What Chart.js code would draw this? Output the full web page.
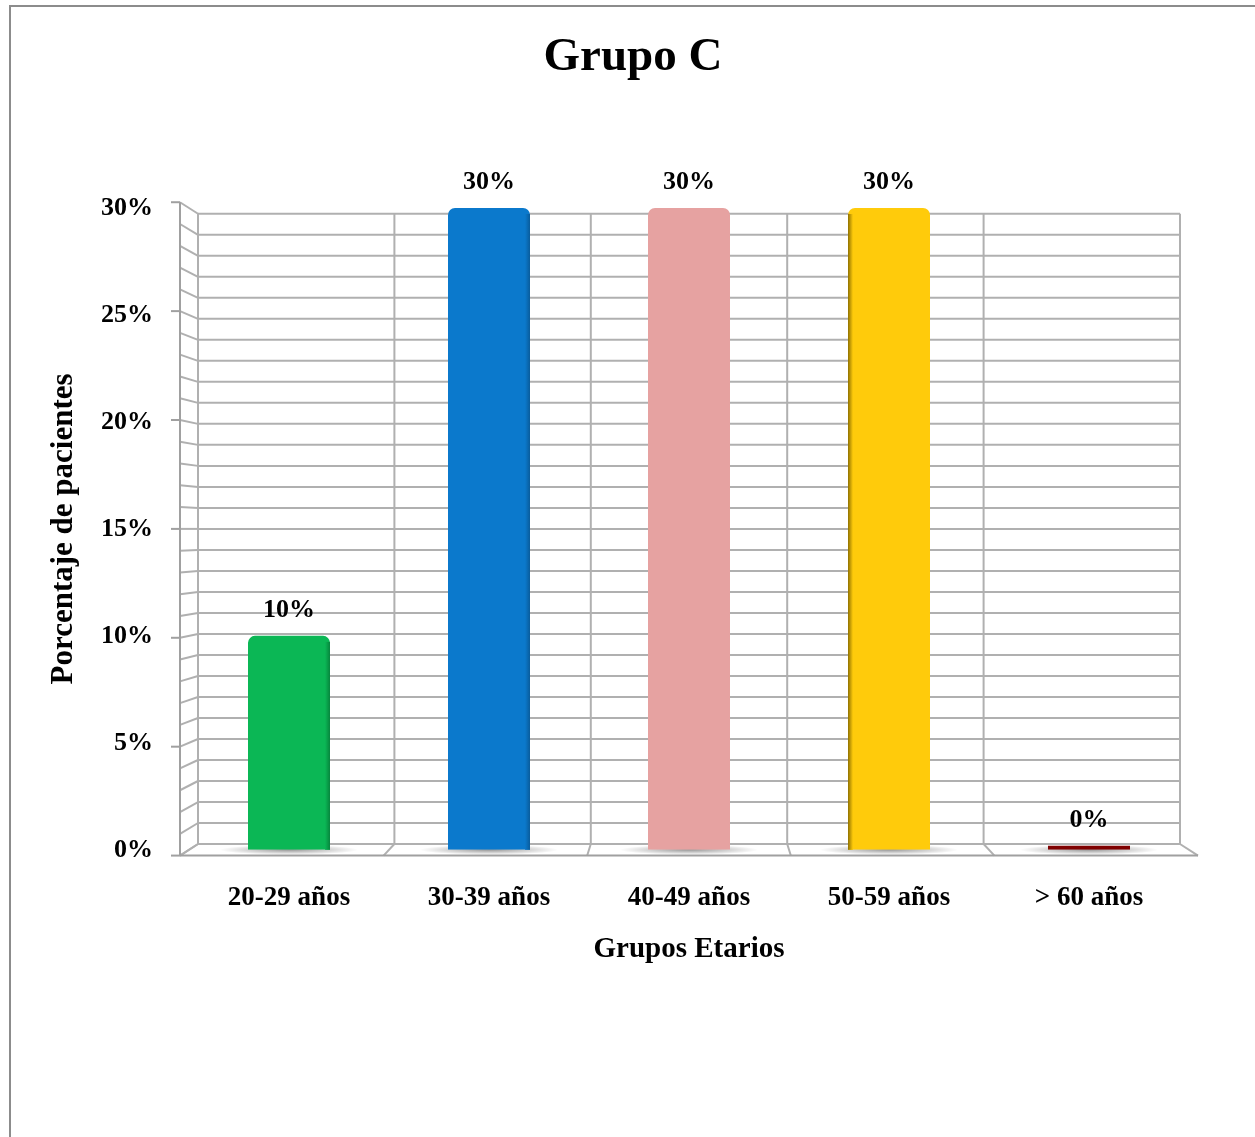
<!DOCTYPE html>
<html><head><meta charset="utf-8">
<script src="https://cdn.jsdelivr.net/npm/chart.js@4.4.0/dist/chart.umd.min.js"></script>
<style>
html,body{margin:0;padding:0;background:#fff;}
#wrap{position:relative;width:1255px;height:1137px;overflow:hidden;}
#frame{position:absolute;left:9px;top:5px;width:1400px;height:1400px;border-left:2px solid #8c8c8c;border-top:2px solid #8c8c8c;pointer-events:none;}
canvas{position:absolute;left:0;top:0;}
</style></head>
<body><div id="wrap"><canvas id="c" width="1255" height="1137"></canvas><div id="frame"></div></div>
<script>
const categories = ['20-29 años','30-39 años','40-49 años','50-59 años','> 60 años'];
const values = [10, 30, 30, 30, 0];
const barColors = ['#0bb755','#0b79cc','#e6a2a1','#ffcb0b','#7f0000'];
const sideColors = ['#07853d','#095c9c','#c48786','#8f7100','#4a0000'];
const yTicks = [0, 5, 10, 15, 20, 25, 30];
const chartTitle = 'Grupo C';
const xTitle = 'Grupos Etarios';
const yTitle = 'Porcentaje de pacientes';

Chart.defaults.font.family = "'Liberation Serif','Times New Roman',serif";
Chart.defaults.color = '#000';

const DEPTH = 0.018;
const wallPlugin = {
  id: 'wall3d',
  beforeDatasetsDraw(chart) {
    const {ctx, chartArea: a, scales: {x, y}} = chart;
    const cx = (a.left + a.right) / 2, cy = (a.top + a.bottom) / 2;
    const B = (px, py) => [cx + (px - cx) * (1 - DEPTH), cy + (py - cy) * (1 - DEPTH)];
    const F = (px, py) => [cx + (px - cx) * (1 + DEPTH), cy + (py - cy) * (1 + DEPTH)];
    const line = (p, q) => { ctx.beginPath(); ctx.moveTo(p[0], p[1]); ctx.lineTo(q[0], q[1]); ctx.stroke(); };
    ctx.save();
    ctx.strokeStyle = '#b0b0b0';
    ctx.lineWidth = 2;
    for (let v = y.min; v <= y.max; v += 1) {
      const py = y.getPixelForValue(v);
      line(B(a.left, py), B(a.right, py));
      line(F(a.left, py), B(a.left, py));
    }
    const n = categories.length;
    const step = (a.right - a.left) / n;
    for (let i = 0; i <= n; i++) {
      const px = a.left + i * step;
      line(B(px, y.getPixelForValue(y.max)), B(px, y.getPixelForValue(y.min)));
      line(B(px, a.bottom), F(px, a.bottom));
    }
    ctx.strokeStyle = '#a0a0a0';
    line(F(a.left, y.getPixelForValue(y.max)), F(a.left, a.bottom));
    line(F(a.left, a.bottom), F(a.right, a.bottom));
    for (const v of yTicks) {
      const p = F(a.left, y.getPixelForValue(v));
      line([p[0] - 9, p[1]], p);
    }
    // floor shadows
    const meta = chart.getDatasetMeta(0);
    meta.data.forEach((el) => {
      const rx = el.width / 2 + 28, ry = 5;
      ctx.save();
      ctx.translate(el.x, el.base);
      ctx.scale(rx / ry, 1);
      const g = ctx.createRadialGradient(0, 0, 0, 0, 0, ry);
      g.addColorStop(0, 'rgba(0,0,0,0.4)');
      g.addColorStop(1, 'rgba(0,0,0,0)');
      ctx.fillStyle = g;
      ctx.beginPath(); ctx.arc(0, 0, ry, 0, Math.PI * 2); ctx.fill();
      ctx.restore();
    });
    ctx.restore();
  },
  afterDatasetsDraw(chart) {
    const {ctx} = chart;
    const meta = chart.getDatasetMeta(0);
    ctx.save();
    meta.data.forEach((el, i) => {
      if (values[i] > 0 && i !== 2) {
        const sw = 5;
        const sx = i < 2 ? el.x + el.width / 2 - sw : el.x - el.width / 2;
        const g = ctx.createLinearGradient(sx, 0, sx + sw, 0);
        if (i < 2) { g.addColorStop(0, barColors[i]); g.addColorStop(1, sideColors[i]); }
        else { g.addColorStop(0, sideColors[i]); g.addColorStop(1, barColors[i]); }
        ctx.fillStyle = g;
        ctx.fillRect(sx, el.y + 6, sw, el.base - el.y - 6);
      }
      ctx.fillStyle = '#000';
      ctx.font = "bold 26px 'Liberation Serif','Times New Roman',serif";
      ctx.textAlign = 'center';
      ctx.textBaseline = 'middle';
      ctx.fillText(values[i] + '%', el.x, el.y - 26);
    });
    ctx.restore();
  }
};

new Chart(document.getElementById('c'), {
  type: 'bar',
  data: {
    labels: categories,
    datasets: [{
      data: values,
      backgroundColor: barColors,
      barPercentage: 0.41,
      categoryPercentage: 1,
      borderRadius: (c) => c.raw > 0 ? {topLeft: 7, topRight: 7, bottomLeft: 0, bottomRight: 0} : 0,
      borderSkipped: 'bottom',
      minBarLength: 4
    }]
  },
  options: {
    responsive: false,
    animation: false,
    events: [],
    layout: {padding: {left: 77, right: 66, top: 0, bottom: 170}},
    plugins: {
      legend: {display: false},
      tooltip: {enabled: false},
      title: {display: true, text: chartTitle, color: '#000', font: {size: 47, weight: 'bold'}, padding: {top: 30, bottom: 121.6}}
    },
    scales: {
      x: {
        grid: {display: false, drawTicks: false},
        border: {display: false},
        ticks: {color: '#000', font: {size: 27, weight: 'bold'}, padding: 32},
        title: {display: true, text: xTitle, color: '#000', font: {size: 29, weight: 'bold'}, padding: {top: -14, bottom: 0}}
      },
      y: {
        min: 0, max: 30,
        grid: {display: false, drawTicks: false},
        border: {display: false},
        ticks: {stepSize: 5, color: '#000', font: {size: 26, weight: 'bold'}, padding: 36, callback: (v) => v + '%'},
        title: {display: true, text: yTitle, color: '#000', font: {size: 31, weight: 'bold'}, padding: {top: -31.6, bottom: 0}},
        afterFit(s) { s.width = 112; }
      }
    }
  },
  plugins: [wallPlugin]
});
</script>
</body></html>
